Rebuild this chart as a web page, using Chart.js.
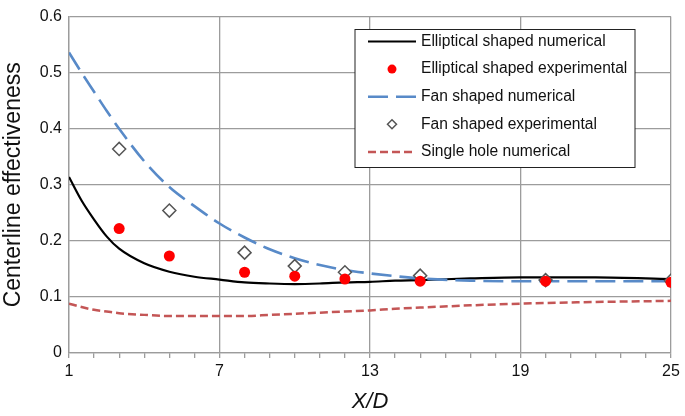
<!DOCTYPE html>
<html lang="en">
<head>
    <meta charset="UTF-8">
    <title>Centerline effectiveness vs X/D</title>
    <script src="https://cdn.jsdelivr.net/npm/chart.js"></script>
    <style>
        body { margin: 0; background: #fff; }
        canvas { display: block; }
    </style>
</head>
<body>
    <canvas id="effChart" width="685" height="416"></canvas>

    <script>
        // X/D stations for the numerical curves
        const xNum = [1, 1.5, 2, 2.5, 3, 4, 5, 6, 7, 8, 9, 10, 11, 12, 13, 14, 15, 17, 19, 22, 25];
        const ellipNum = [0.314, 0.272, 0.238, 0.208, 0.186, 0.160, 0.145, 0.136, 0.131, 0.126, 0.124,
                          0.123, 0.124, 0.126, 0.127, 0.129, 0.130, 0.133, 0.135, 0.135, 0.132];
        const fanNum = [0.536, 0.500, 0.466, 0.432, 0.400, 0.342, 0.296, 0.262, 0.231, 0.206, 0.185,
                        0.169, 0.157, 0.148, 0.142, 0.137, 0.133, 0.129, 0.128, 0.128, 0.128];
        const singleNum = [0.088, 0.082, 0.077, 0.074, 0.071, 0.068, 0.066, 0.066, 0.066, 0.066, 0.068,
                           0.070, 0.072, 0.074, 0.076, 0.079, 0.081, 0.085, 0.088, 0.091, 0.093];

        // experimental stations
        const xExp = [3, 5, 8, 10, 12, 15, 20, 25];
        const ellipExp = [0.222, 0.173, 0.144, 0.137, 0.132, 0.128, 0.128, 0.126];
        const fanExp = [0.364, 0.254, 0.179, 0.155, 0.144, 0.138, 0.130, 0.129];

        const xMajor = [1, 7, 13, 19, 25];
        const gridGray = '#9c9c9c';
        const fontFam = '"Liberation Sans", Arial, sans-serif';

        const pts = (xs, ys) => xs.map((x, i) => ({ x: x, y: ys[i] }));

        // legend box drawn inside the plot, like the original
        const boxLegend = {
            id: 'boxLegend',
            afterDraw(chart) {
                const ctx = chart.ctx;
                const left = 355, top = 29.5, w = 280, h = 138;
                ctx.save();
                ctx.fillStyle = '#fff';
                ctx.fillRect(left, top, w, h);
                ctx.strokeStyle = '#222';
                ctx.lineWidth = 1;
                ctx.strokeRect(left, top, w, h);
                ctx.font = '15.6px ' + fontFam;
                ctx.textBaseline = 'middle';
                chart.data.datasets.forEach((ds, row) => {
                    const y = 41.5 + row * 27.6;
                    if (ds.showLine === false) {
                        ctx.beginPath();
                        if (ds.pointStyle === 'rectRot') {
                            const r = 4.5;
                            ctx.moveTo(392, y - r); ctx.lineTo(392 + r, y);
                            ctx.lineTo(392, y + r); ctx.lineTo(392 - r, y); ctx.closePath();
                        } else {
                            ctx.arc(392, y, 4.5, 0, Math.PI * 2);
                        }
                        ctx.fillStyle = ds.pointBackgroundColor;
                        ctx.fill();
                        ctx.strokeStyle = ds.pointBorderColor;
                        ctx.lineWidth = ds.pointBorderWidth;
                        if (ds.pointBorderWidth) ctx.stroke();
                    } else {
                        ctx.beginPath();
                        ctx.setLineDash(ds.borderDash || []);
                        ctx.strokeStyle = ds.borderColor;
                        ctx.lineWidth = ds.borderWidth;
                        ctx.moveTo(368, y); ctx.lineTo(416, y);
                        ctx.stroke();
                        ctx.setLineDash([]);
                    }
                    ctx.fillStyle = '#111';
                    ctx.fillText(ds.label, 421, y);
                });
                ctx.restore();
            }
        };

        const ctx = document.getElementById('effChart').getContext('2d');
        const effChart = new Chart(ctx, {
            type: 'line',
            data: {
                datasets: [
                    {
                        label: 'Elliptical shaped numerical',
                        data: pts(xNum, ellipNum),
                        borderColor: '#000',
                        borderWidth: 2.2,
                        pointRadius: 0,
                        cubicInterpolationMode: 'monotone',
                        order: 3
                    },
                    {
                        label: 'Elliptical shaped experimental',
                        data: pts(xExp, ellipExp),
                        showLine: false,
                        pointStyle: 'circle',
                        pointRadius: 5.5,
                        pointBackgroundColor: '#ff0000',
                        pointBorderColor: '#ff0000',
                        pointBorderWidth: 0,
                        order: 0
                    },
                    {
                        label: 'Fan shaped numerical',
                        data: pts(xNum, fanNum),
                        borderColor: 'rgb(88,138,200)',
                        borderWidth: 2.6,
                        borderDash: [20, 8],
                        pointRadius: 0,
                        cubicInterpolationMode: 'monotone',
                        order: 2
                    },
                    {
                        label: 'Fan shaped experimental',
                        data: pts(xExp, fanExp),
                        showLine: false,
                        pointStyle: 'rectRot',
                        pointRadius: 6.5,
                        pointBackgroundColor: '#fff',
                        pointBorderColor: '#555',
                        pointBorderWidth: 1.5,
                        order: 1
                    },
                    {
                        label: 'Single hole numerical',
                        data: pts(xNum, singleNum),
                        borderColor: 'rgb(196,86,86)',
                        borderWidth: 2.5,
                        borderDash: [8, 4],
                        pointRadius: 0,
                        cubicInterpolationMode: 'monotone',
                        order: 4
                    }
                ]
            },
            options: {
                responsive: false,
                animation: false,
                layout: { padding: { left: 0, top: 13, right: 14, bottom: 0 } },
                plugins: {
                    legend: { display: false },
                    tooltip: { enabled: false }
                },
                scales: {
                    x: {
                        type: 'linear',
                        min: 1,
                        max: 25,
                        afterFit: (scale) => { scale.height = 63; },
                        ticks: {
                            stepSize: 1,
                            autoSkip: false,
                            maxRotation: 0,
                            padding: 4,
                            color: '#111',
                            font: { family: fontFam, size: 16 },
                            callback: (v) => xMajor.includes(v) ? String(v) : ''
                        },
                        grid: {
                            color: (c) => xMajor.includes(c.tick && c.tick.value) ? gridGray : 'transparent',
                            tickColor: gridGray,
                            tickLength: 5,
                            lineWidth: 1.3
                        },
                        border: { color: gridGray, width: 1.3 },
                        title: {
                            display: true,
                            text: 'X/D',
                            color: '#111',
                            padding: { top: 0, bottom: 1 },
                            font: { family: fontFam, size: 22, style: 'italic' }
                        }
                    },
                    y: {
                        min: 0,
                        max: 0.6,
                        afterFit: (scale) => { scale.width = 69; },
                        ticks: {
                            stepSize: 0.1,
                            padding: 7,
                            color: '#111',
                            font: { family: fontFam, size: 16 },
                            callback: (v) => v === 0 ? '0' : v.toFixed(1)
                        },
                        grid: {
                            color: gridGray,
                            lineWidth: 1.3,
                            drawTicks: false
                        },
                        border: { color: gridGray, width: 1.3 },
                        title: {
                            display: true,
                            text: 'Centerline effectiveness',
                            color: '#111',
                            padding: { top: 0, bottom: 0 },
                            font: { family: fontFam, size: 23 }
                        }
                    }
                }
            },
            plugins: [boxLegend]
        });
    </script>
</body>
</html>
